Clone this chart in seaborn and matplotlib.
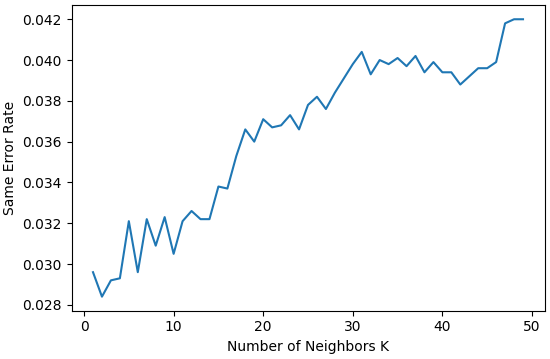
import numpy as np
import pandas as pd
import seaborn as sns
import matplotlib
matplotlib.use("Agg")
import matplotlib.pyplot as plt

k_values = list(range(1, 50))
error_rate = [0.0296, 0.0284, 0.0292, 0.0293, 0.0321, 0.0296, 0.0322, 0.0309, 0.0323, 0.0305,
              0.0321, 0.0326, 0.0322, 0.0322, 0.0338, 0.0337, 0.0353, 0.0366, 0.0360, 0.0371,
              0.0367, 0.0368, 0.0373, 0.0366, 0.0378, 0.0382, 0.0376, 0.0384, 0.0391, 0.0398,
              0.0404, 0.0393, 0.0400, 0.0398, 0.0401, 0.0397, 0.0402, 0.0394, 0.0399, 0.0394,
              0.0394, 0.0388, 0.0392, 0.0396, 0.0396, 0.0399, 0.0418, 0.0420, 0.0420]

df = pd.DataFrame({'k': k_values, 'err': error_rate})

fig, ax = plt.subplots(figsize=(5.5, 3.59), dpi=100)
sns.lineplot(data=df, x='k', y='err', ax=ax, color='#1f77b4', linewidth=1.5)
ax.set_xlabel('Number of Neighbors K')
ax.set_ylabel('Same Error Rate')
ax.set_xticks([0, 10, 20, 30, 40, 50])
ax.set_yticks(np.arange(0.028, 0.0421, 0.002))
fig.subplots_adjust(left=0.13, right=0.99, top=0.985, bottom=0.135)
fig.savefig('out.png')
